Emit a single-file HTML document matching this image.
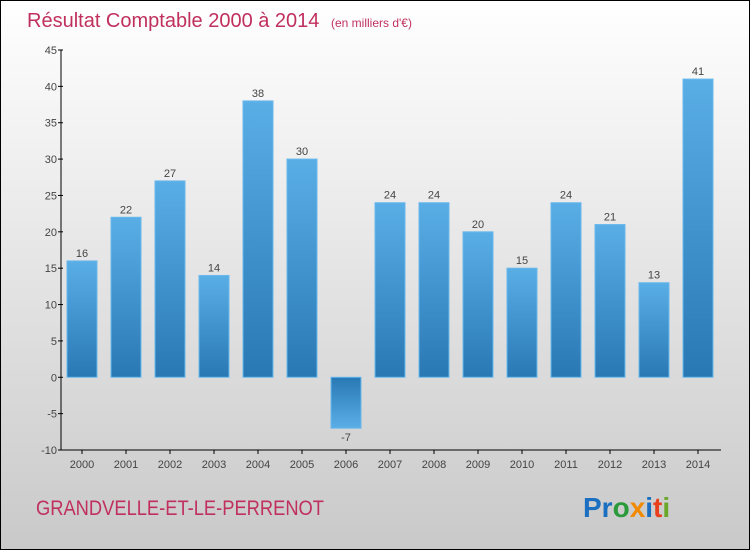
<!DOCTYPE html>
<html><head><meta charset="utf-8"><style>
body{margin:0}
svg{display:block;font-family:"Liberation Sans",sans-serif}
</style></head><body>
<svg id="chart" width="750" height="550" xmlns="http://www.w3.org/2000/svg">
<defs>
<linearGradient id="bg" x1="0" y1="0" x2="0" y2="1"><stop offset="0" stop-color="#ffffff"/><stop offset="1" stop-color="#c9c9c9"/></linearGradient>
<linearGradient id="bp" x1="0" y1="0" x2="0" y2="1"><stop offset="0" stop-color="#5aaee6"/><stop offset="1" stop-color="#2878b4"/></linearGradient>
<linearGradient id="bn" x1="0" y1="0" x2="0" y2="1"><stop offset="0" stop-color="#2878b4"/><stop offset="1" stop-color="#5aaee6"/></linearGradient>
</defs>
<rect x="0.5" y="0.5" width="749" height="549" fill="url(#bg)" stroke="#000"/>
<text x="27" y="27" font-size="20" fill="#c0305e">Résultat Comptable 2000 à 2014 <tspan font-size="12" dx="6">(en milliers d'€)</tspan></text>
<g id="axes"></g>
<g id="bars"></g>
<text x="36" y="515" font-size="21" fill="#c0305e" textLength="288" lengthAdjust="spacingAndGlyphs">GRANDVELLE-ET-LE-PERRENOT</text>
<text x="583" y="517" font-size="28" font-weight="bold"><tspan fill="#1b6fc0">Pr</tspan><tspan fill="#2a9a3a">o</tspan><tspan fill="#f28a00">x</tspan><tspan fill="#1b6fc0">i</tspan><tspan fill="#e8401c">t</tspan><tspan fill="#6aa82a">i</tspan></text>
</svg>
<script>
const categories=["2000","2001","2002","2003","2004","2005","2006","2007","2008","2009","2010","2011","2012","2013","2014"];
const values=[16,22,27,14,38,30,-7,24,24,20,15,24,21,13,41];
const yTicks=[-10,-5,0,5,10,15,20,25,30,35,40,45];
const NS="http://www.w3.org/2000/svg";
const x0=61,x1=721,yTop=50,yBot=450,vMin=-10,vMax=45;
const y=v=>yBot-(v-vMin)/(vMax-vMin)*(yBot-yTop);
const step=44,firstC=82,bw=30;
const xc=i=>firstC+i*step;
function mk(t,a,p){const e=document.createElementNS(NS,t);for(const k in a)e.setAttribute(k,a[k]);p.appendChild(e);return e;}
const ax=document.getElementById('axes'),bg=document.getElementById('bars');
let l=mk('line',{x1:x0,y1:yTop,x2:x0,y2:yBot,stroke:'#000'},ax);


l=mk('line',{x1:x0,y1:yBot,x2:x1,y2:yBot,stroke:'#000'},ax);


yTicks.forEach(v=>{
 const t=mk('line',{x1:x0-3,y1:y(v),x2:x0+2,y2:y(v),stroke:'#000'},ax);
 
 
 const tx=mk('text',{x:x0-4,y:y(v)+4,'font-size':11,fill:'#444','text-anchor':'end'},ax);
 tx.textContent=v;
 
 
});
categories.forEach((c,i)=>{
 const t=mk('line',{x1:xc(i),y1:yBot,x2:xc(i),y2:yBot+4,stroke:'#000'},ax);
 
 
 const tx=mk('text',{x:xc(i),y:yBot+18,'font-size':11,fill:'#444','text-anchor':'middle'},ax);
 tx.textContent=c;
 
 
 const v=values[i],top=Math.min(y(v),y(0)),h=Math.abs(y(v)-y(0));
 const r=mk('rect',{x:xc(i)-bw/2,y:top,width:bw,height:h,fill:v>=0?'url(#bp)':'url(#bn)',stroke:'#6ab8ec','stroke-width':1},bg);
 
 
 const lb=mk('text',{x:xc(i),y:v>=0?y(v)-4:y(v)+13,'font-size':11,fill:'#444','text-anchor':'middle'},bg);
 lb.textContent=v;
 
 
});
</script>
</body></html>
